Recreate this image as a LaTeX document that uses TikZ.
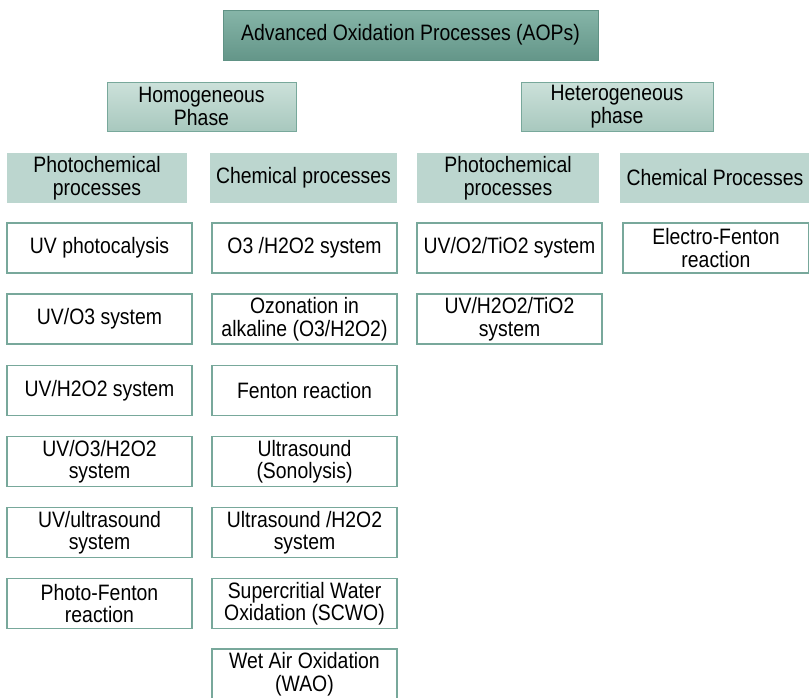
\documentclass[tikz,border=0pt]{standalone}
\usepackage{fontspec}
\setmainfont[FakeStretch=0.87]{Liberation Sans}
\definecolor{topA}{RGB}{134,181,168}
\definecolor{topB}{RGB}{100,150,137}
\definecolor{topE}{RGB}{96,146,133}
\definecolor{phA}{RGB}{204,225,218}
\definecolor{phB}{RGB}{168,200,190}
\definecolor{edge}{RGB}{120,168,155}
\definecolor{hdr}{RGB}{188,214,207}
\tikzset{
  base/.style={inner sep=0pt, align=center, font=\fontsize{22.3}{22.5}\selectfont, text=black},
  topbox/.style={base, draw=topE, line width=1pt, top color=topA, bottom color=topB, minimum width=375pt, minimum height=50pt},
  phasebox/.style={base, draw=edge, line width=1pt, top color=phA, bottom color=phB, minimum height=49pt},
  hdrbox/.style={base, fill=hdr, minimum height=50pt},
  itembox/.style={base, draw=edge, fill=white, line width=1.3pt, minimum width=185pt, minimum height=50pt}
}
\begin{document}
\begin{tikzpicture}[x=1pt,y=-1pt]
\useasboundingbox (0,0) rectangle (809,697);
\fill[white] (0,0) rectangle (809,697);
\node[topbox] (aop) at (410.5,35) {Advanced Oxidation Processes (AOPs)};
\node[phasebox, minimum width=189pt] (homo) at (201.5,106.5) {Homogeneous\\Phase};
\node[phasebox, minimum width=192pt] (hetero) at (617,106.5) {Heterogeneous\\phase};
\node[hdrbox, minimum width=180pt] (h1) at (97,178) {Photochemical\\processes};
\node[hdrbox, minimum width=187pt] (h2) at (303.5,178) {Chemical processes};
\node[hdrbox, minimum width=182pt] (h3) at (508,178) {Photochemical\\processes};
\node[hdrbox, minimum width=190pt] (h4) at (715,178) {Chemical Processes};
% column 1
\node[itembox] (a1) at (99.5,248) {UV photocalysis};
\node[itembox] (a2) at (99.5,319) {UV/O3 system};
\node[itembox] (a3) at (99.5,390.5) {UV/H2O2 system};
\node[itembox] (a4) at (99.5,461.5) {UV/O3/H2O2\\system};
\node[itembox] (a5) at (99.5,532.5) {UV/ultrasound\\system};
\node[itembox] (a6) at (99.5,603.5) {Photo-Fenton\\reaction};
% column 2
\node[itembox] (b1) at (304.5,248) {O3 /H2O2 system};
\node[itembox] (b2) at (304.5,319) {Ozonation in\\alkaline (O3/H2O2)};
\node[itembox] (b3) at (304.5,390.5) {Fenton reaction};
\node[itembox] (b4) at (304.5,461.5) {Ultrasound\\(Sonolysis)};
\node[itembox] (b5) at (304.5,532.5) {Ultrasound /H2O2\\system};
\node[itembox] (b6) at (304.5,603.5) {Supercritial Water\\Oxidation (SCWO)};
\node[itembox] (b7) at (304.5,674) {Wet Air Oxidation\\(WAO)};
% column 3
\node[itembox] (c1) at (509.5,248) {UV/O2/TiO2 system};
\node[itembox] (c2) at (509.5,319) {UV/H2O2/TiO2\\system};
% column 4
\node[itembox, minimum width=186pt] (d1) at (716,248) {Electro-Fenton\\reaction};
\end{tikzpicture}
\end{document}
